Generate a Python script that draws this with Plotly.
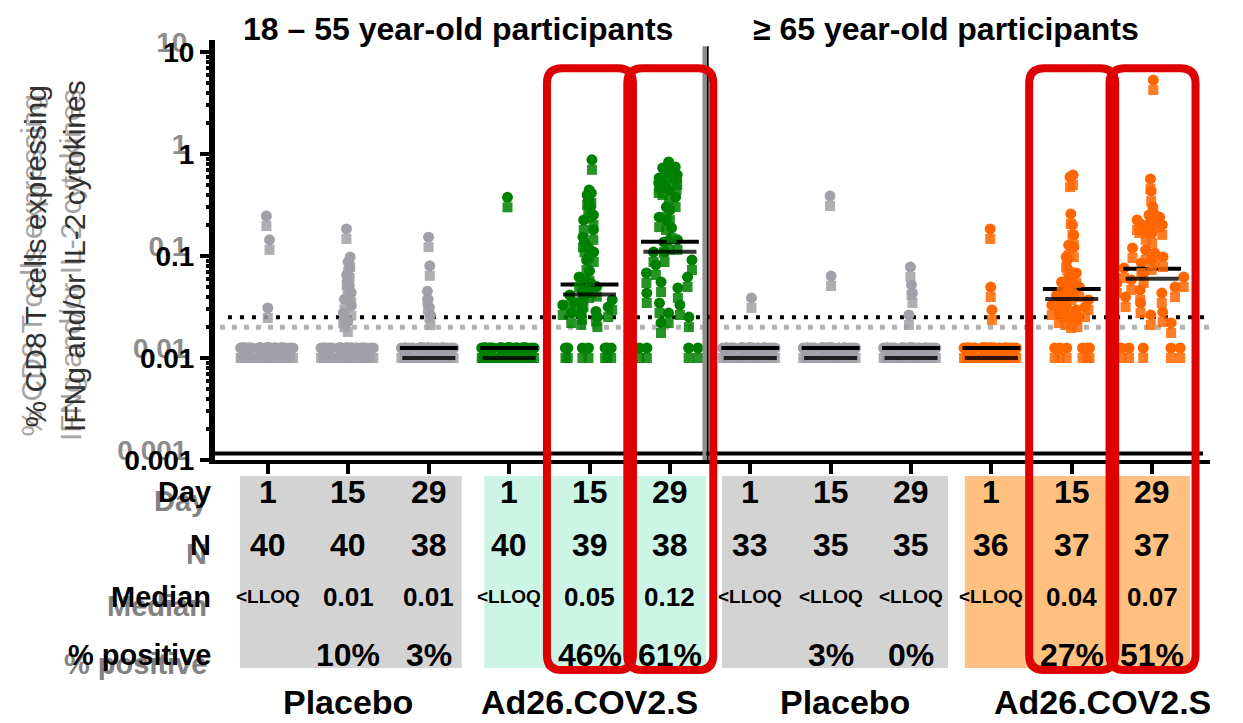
import plotly.graph_objects as go

FONT = "Liberation Sans, Arial, sans-serif"

# ---------------- data ----------------
categories = list(range(12))
days = ["1", "15", "29", "1", "15", "29", "1", "15", "29", "1", "15", "29"]
n_vals = ["40", "40", "38", "40", "39", "38", "33", "35", "35", "36", "37", "37"]
median_text = ["<LLOQ", "0.01", "0.01", "<LLOQ", "0.05", "0.12",
               "<LLOQ", "<LLOQ", "<LLOQ", "<LLOQ", "0.04", "0.07"]
pct_positive = ["", "10%", "3%", "", "46%", "61%", "", "3%", "0%", "", "27%", "51%"]
median_drawn = [0.01, 0.01, 0.01, 0.01, 0.042, 0.11, 0.01, 0.01, 0.01, 0.01, 0.038, 0.06]
median_on_top = [False, False, True, True, True, True, True, True, True, True, True, True]
group_labels = ["Placebo", "Ad26.COV2.S", "Placebo", "Ad26.COV2.S"]
group_label_x = [1.0, 4.0, 7.18, 10.38]
age_titles = ["18 – 55 year-old participants", "≥ 65 year-old participants"]
age_title_x = [2.36, 8.44]
row_labels = ["Day", "N", "Median", "% positive"]

lloq = 0.01
threshold = 0.02

# values above LLOQ per group, and number of participants at LLOQ
y_pla_d1 = [0.197, 0.115, 0.0247]
y_pla_d15 = [0.147, 0.078, 0.070, 0.061, 0.052, 0.046, 0.041, 0.035, 0.030,
             0.026, 0.022, 0.020, 0.018]
y_pla_d29 = [0.122, 0.064, 0.036, 0.030, 0.025, 0.021]
y_ad_d1 = [0.30]
y_ad_d15 = [0.70, 0.354, 0.331, 0.316, 0.282, 0.241, 0.201, 0.180, 0.144, 0.122,
            0.109, 0.0955, 0.0873, 0.0729, 0.0569, 0.0497, 0.0465, 0.0430, 0.0400,
            0.0388, 0.0360, 0.0331, 0.0316, 0.0296, 0.0280, 0.0264, 0.0252, 0.0236,
            0.0228, 0.0220, 0.0211, 0.0201]
y_ad_d29 = [0.667, 0.596, 0.582, 0.556, 0.556, 0.497, 0.464, 0.444, 0.415, 0.397,
            0.354, 0.302, 0.241, 0.225, 0.192, 0.180, 0.150, 0.115, 0.115, 0.109,
            0.0873, 0.0873, 0.0729, 0.0652, 0.0544, 0.0497, 0.0444, 0.0388, 0.0346,
            0.0276, 0.0264, 0.0220, 0.0201, 0.0176]
o_pla_d1 = [0.031]
o_pla_d15 = [0.309, 0.0508]
o_pla_d29 = [0.0622, 0.0415, 0.0346, 0.0211]
o_ad_d1 = [0.147, 0.0396, 0.0236]
o_ad_d15 = [0.497, 0.474, 0.206, 0.161, 0.128, 0.102, 0.0977, 0.078, 0.0729, 0.0556,
            0.0544, 0.0497, 0.0465, 0.0444, 0.0434, 0.0415, 0.0396, 0.0371, 0.0346,
            0.0331, 0.0309, 0.0296, 0.0282, 0.0264, 0.0252, 0.0247, 0.0236, 0.0220,
            0.0211, 0.0201, 0.0197]
o_ad_d29 = [4.24, 0.454, 0.346, 0.241, 0.206, 0.201, 0.192, 0.180, 0.168, 0.168,
            0.161, 0.144, 0.134, 0.0955, 0.0914, 0.0853, 0.0780, 0.0729, 0.0681,
            0.0608, 0.0544, 0.0497, 0.0465, 0.0434, 0.0396, 0.0371, 0.0346, 0.0316,
            0.0276, 0.0225, 0.0211, 0.0176]

above_lists = [y_pla_d1, y_pla_d15, y_pla_d29, y_ad_d1, y_ad_d15, y_ad_d29,
               o_pla_d1, o_pla_d15, o_pla_d29, o_ad_d1, o_ad_d15, o_ad_d29]
n_at_lloq = [37, 27, 32, 39, 7, 4, 32, 33, 31, 33, 6, 5]

GREY = "rgb(160,160,166)"
GREEN = "rgb(0,128,0)"
ORANGE = "rgb(255,102,0)"
group_colors = [GREY] * 3 + [GREEN] * 3 + [GREY] * 3 + [ORANGE] * 3
swarm_width = [0.7, 0.7, 0.7, 0.7, 0.85, 0.9, 0.7, 0.7, 0.7, 0.7, 0.85, 0.9]
highlighted = [4, 5, 10, 11]

# ---------------- figure ----------------
fig = go.Figure()

group_values = [a + [lloq] * k for a, k in zip(above_lists, n_at_lloq)]

# ghost squares (secondary axis) and circles (primary axis)
for axis, sym, size, op in [("y2", "square", 10, 0.85), ("y", "circle", 11, 1.0)]:
    for i, vals in enumerate(group_values):
        fig.add_trace(go.Box(
            x=[categories[i]] * len(vals), y=vals, yaxis=axis,
            boxpoints="all", jitter=1.0, pointpos=0, width=swarm_width[i],
            fillcolor="rgba(0,0,0,0)", line=dict(width=0, color="rgba(0,0,0,0)"),
            whiskerwidth=0,
            marker=dict(color=group_colors[i], size=size, symbol=sym, opacity=op,
                        line=dict(width=0)),
            showlegend=False, hoverinfo="y"))

# median lines drawn over the points
for axis, col, hw in [("y", "black", 0.36), ("y2", "rgba(0,0,0,0.8)", 0.33)]:
    mx, my = [], []
    for i, m in enumerate(median_drawn):
        if median_on_top[i]:
            mx += [categories[i] - hw, categories[i] + hw, None]
            my += [m, m, None]
    fig.add_trace(go.Scatter(x=mx, y=my, yaxis=axis, mode="lines",
                             line=dict(color=col, width=4), showlegend=False,
                             hoverinfo="skip"))

shapes = []
# median lines drawn under the points
for i, m in enumerate(median_drawn):
    if not median_on_top[i]:
        shapes.append(dict(type="line", xref="x", yref="y", layer="below",
                           x0=categories[i] - 0.36, x1=categories[i] + 0.36, y0=m, y1=m,
                           line=dict(color="black", width=4)))

# positivity threshold lines
shapes.append(dict(type="line", xref="paper", yref="y2", layer="below",
                   x0=0.005, x1=1.0, y0=threshold, y1=threshold,
                   line=dict(color="rgb(180,180,180)", width=5, dash="5px,7px")))
shapes.append(dict(type="line", xref="paper", yref="y", layer="below",
                   x0=0.013, x1=0.995, y0=threshold, y1=threshold,
                   line=dict(color="black", width=4, dash="4px,8px")))

# second x-axis line (double baseline)
shapes.append(dict(type="line", xref="paper", yref="paper", x0=0, x1=0.993,
                   y0=0.0155, y1=0.0155, line=dict(color="black", width=4)))

# separator between age cohorts
shapes.append(dict(type="line", xref="x", yref="paper", x0=5.43, x1=5.43,
                   y0=0.0, y1=0.985, line=dict(color="rgb(140,140,140)", width=4)))
shapes.append(dict(type="line", xref="x", yref="paper", x0=5.47, x1=5.47,
                   y0=0.0, y1=0.985, line=dict(color="black", width=2)))

# table background panels
panel_spans = [(-0.35, 2.41, "rgb(211,211,211)"), (2.69, 5.45, "rgb(204,245,230)"),
               (5.65, 8.46, "rgb(211,211,211)"), (8.67, 11.47, "rgb(255,192,128)")]
for x0, x1, c in panel_spans:
    shapes.append(dict(type="rect", xref="x", yref="paper", x0=x0, x1=x1,
                       y0=-0.495, y1=-0.038, fillcolor=c, line=dict(width=0),
                       layer="below"))


def rounded_rect(x0, x1, y0, y1, rx, ry):
    return (f"M {x0 + rx},{y1} L {x1 - rx},{y1} Q {x1},{y1} {x1},{y1 - ry} "
            f"L {x1},{y0 + ry} Q {x1},{y0} {x1 - rx},{y0} L {x0 + rx},{y0} "
            f"Q {x0},{y0} {x0},{y0 + ry} L {x0},{y1 - ry} Q {x0},{y1} {x0 + rx},{y1} Z")


for i in highlighted:
    shapes.append(dict(type="path", xref="x", yref="paper",
                       path=rounded_rect(i - 0.53, i + 0.54, -0.5, 0.933, 0.19, 0.036),
                       line=dict(color="rgb(222,0,0)", width=8), layer="above"))

annotations = []
# titles
for t, x in zip(age_titles, age_title_x):
    annotations.append(dict(text=t, x=x, xref="x", y=1.026, yref="paper",
                            showarrow=False, xanchor="center", yanchor="middle",
                            font=dict(family=FONT, size=32, color="black", weight="bold")))

# y-axis title (with ghost)
ytitle = "% CD8 T cells expressing<br>IFNg and/or IL-2 cytokines"
for col, xs, ys in [("rgb(165,165,165)", -4, -9), ("rgb(50,50,50)", 0, 0)]:
    annotations.append(dict(text=ytitle, x=-0.161, xref="paper", y=0.485, yref="paper",
                            textangle=-90, showarrow=False, xshift=xs, yshift=ys,
                            xanchor="center", yanchor="middle",
                            font=dict(family=FONT, size=30, color=col)))

row_y = [-0.076, -0.202, -0.326, -0.464]
for lab, yv in zip(row_labels, row_y):
    for col, xs, ys in [("rgb(130,130,130)", -4, -9), ("black", 0, 0)]:
        annotations.append(dict(text=lab, x=0, xref="paper", y=yv, yref="paper",
                                xanchor="right", yanchor="middle", showarrow=False,
                                xshift=xs - 2, yshift=ys,
                                font=dict(family=FONT, size=29, color=col, weight="bold")))

for i in categories:
    annotations.append(dict(text=days[i], x=i, xref="x", y=row_y[0], yref="paper",
                            showarrow=False, yanchor="middle",
                            font=dict(family=FONT, size=32, color="black", weight="bold")))
    annotations.append(dict(text=n_vals[i], x=i, xref="x", y=row_y[1], yref="paper",
                            showarrow=False, yanchor="middle",
                            font=dict(family=FONT, size=32, color="black", weight="bold")))
    mt = median_text[i]
    annotations.append(dict(text=mt.replace("<", "&lt;"), x=i, xref="x", y=row_y[2], yref="paper",
                            showarrow=False, yanchor="middle",
                            font=dict(family=FONT, size=19 if mt.startswith("<") else 26,
                                      color="black", weight="bold")))
    if pct_positive[i]:
        annotations.append(dict(text=pct_positive[i], x=i, xref="x", y=row_y[3], yref="paper",
                                showarrow=False, yanchor="middle",
                                font=dict(family=FONT, size=32, color="black", weight="bold")))

for lab, x in zip(group_labels, group_label_x):
    annotations.append(dict(text=lab, x=x, xref="x", y=-0.576, yref="paper",
                            showarrow=False, xanchor="center", yanchor="middle",
                            font=dict(family=FONT, size=34, color="black", weight="bold")))

major = [0.001, 0.01, 0.1, 1, 10]
major_text = ["0.001", "0.01", "0.1", "1", "10"]
minor_vals = [m * 10 ** e for e in range(-3, 1) for m in range(2, 10)]

# the page body adds an 8px offset, so the figure is 8px smaller and margins shifted
fig.update_layout(
    width=1235, height=715,
    margin=dict(l=207, r=33, t=32, b=263),
    plot_bgcolor="white", paper_bgcolor="white",
    boxmode="overlay",
    showlegend=False,
    xaxis=dict(range=[-0.66, 11.72], showgrid=False, zeroline=False,
               showline=True, linecolor="black", linewidth=4,
               tickmode="array", tickvals=categories, ticks="outside", ticklen=10,
               tickwidth=4, tickcolor="black", showticklabels=False),
    yaxis=dict(type="log", range=[-3.098, 1.02], showgrid=False, zeroline=False,
               showline=True, linecolor="black", linewidth=6,
               tickmode="array", tickvals=major, ticktext=major_text,
               ticks="outside", ticklen=16, tickcolor="rgba(0,0,0,0)",
               tickfont=dict(family=FONT, size=28, color="rgb(140,140,140)", weight="bold")),
    yaxis2=dict(type="log", range=[-3.0, 1.118], overlaying="y", side="left",
                showgrid=False, zeroline=False, showline=False,
                tickmode="array", tickvals=major, ticktext=major_text,
                ticks="outside", ticklen=14, tickwidth=4, tickcolor="black",
                minor=dict(tickmode="array", tickvals=minor_vals, ticks="outside",
                           ticklen=8, tickwidth=4, tickcolor="black", showgrid=False),
                tickfont=dict(family=FONT, size=28, color="black", weight="bold")),
    shapes=shapes,
    annotations=annotations,
)

fig.write_html("out.html")
